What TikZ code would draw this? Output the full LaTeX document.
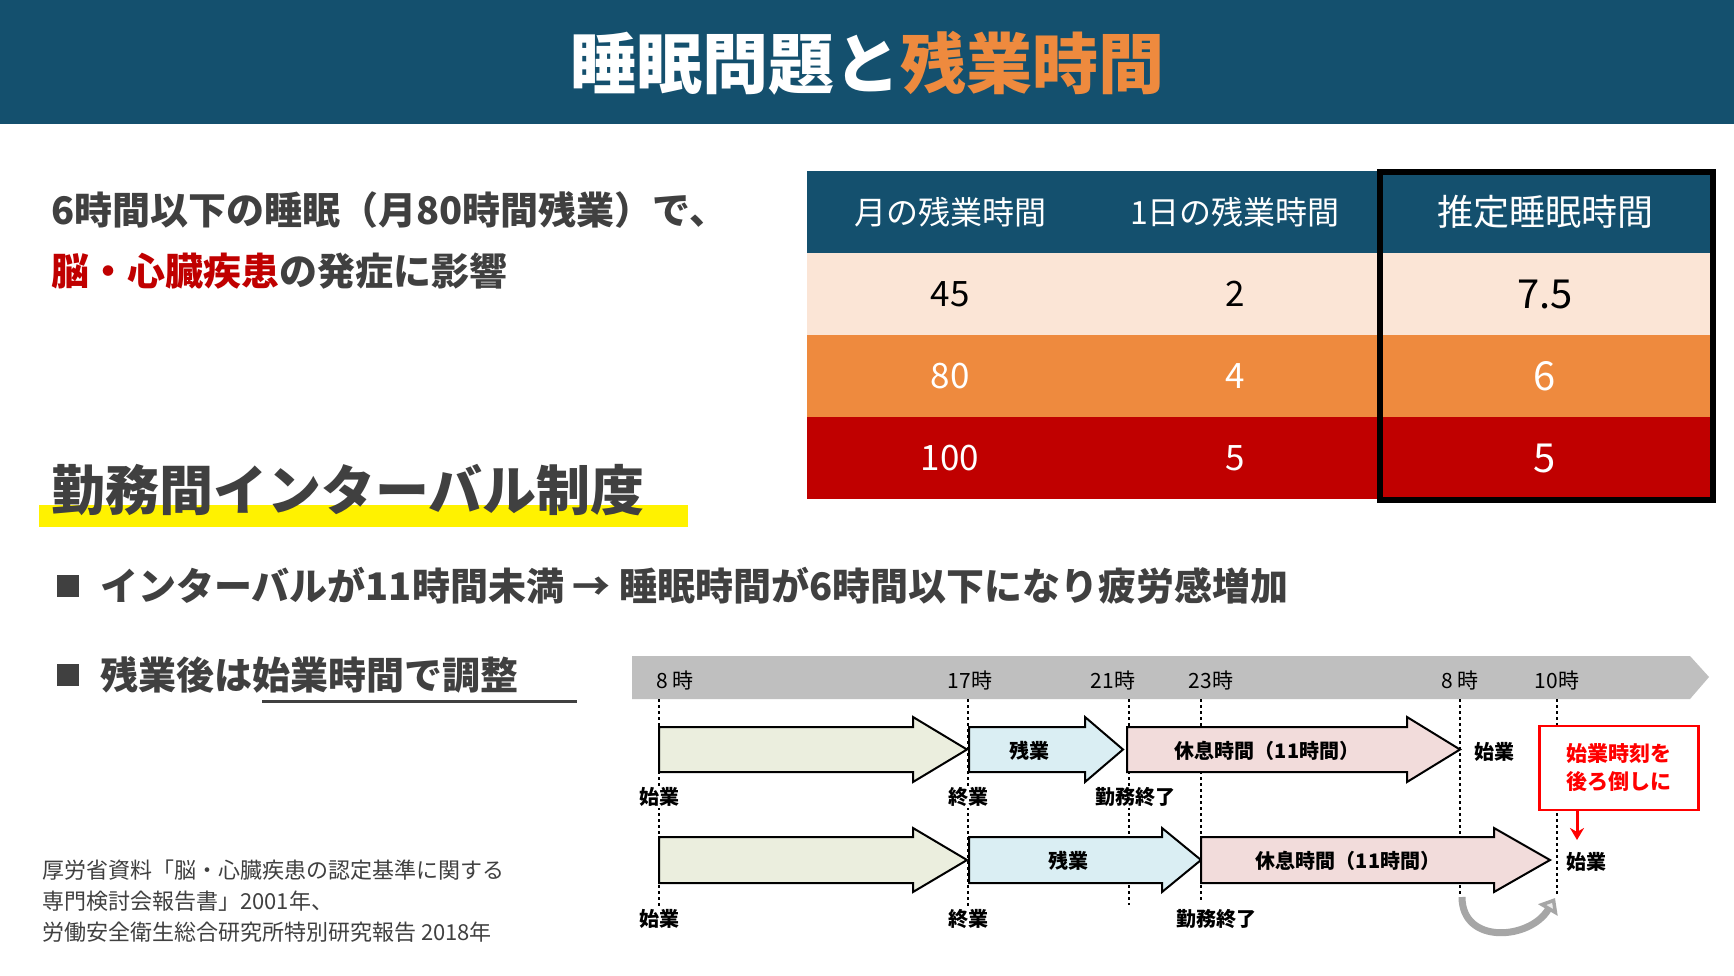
\documentclass[tikz,border=0pt]{standalone}
\usepackage{fontspec}
\usetikzlibrary{arrows.meta}
\setmainfont{Noto Sans CJK JP}
\definecolor{navy}{HTML}{14506E}
\definecolor{orng}{HTML}{EE8A3E}
\definecolor{peach}{HTML}{FBE5D6}
\definecolor{dred}{HTML}{C00000}
\definecolor{txt}{HTML}{404040}
\definecolor{agreen}{HTML}{EBEEDE}
\definecolor{ablue}{HTML}{DAEEF3}
\definecolor{apink}{HTML}{F2DCDB}
\definecolor{band}{HTML}{BFBFBF}
\newcommand{\tarrow}[8]{\draw[line width=2pt,fill=#8] (#1,#5) -- (#2,#5) -- (#2,#4) -- (#3,{(#4+#7)/2}) -- (#2,#7) -- (#2,#6) -- (#1,#6) -- cycle;}
\tikzset{
 tl/.style={font=\fontsize{21}{24}\selectfont, text=black, inner sep=1pt},
 lbl/.style={font=\fontsize{20}{24}\selectfont\bfseries, fill=white, inner sep=1pt},
 albl/.style={font=\fontsize{20}{24}\selectfont\bfseries, inner sep=1pt},
 vline/.style={line width=1.6pt, dash pattern=on 3pt off 3pt},
 cellh/.style={text=white,font=\fontsize{32}{36}\selectfont},
 cellv/.style={font=\fontsize{35}{38}\selectfont},
}
\begin{document}
\begin{tikzpicture}[x=1pt,y=-1pt]
\useasboundingbox (0,0) rectangle (1734,975);
\fill[white] (0,0) rectangle (1734,975);
% header
\fill[navy] (0,0) rectangle (1734,124);
\node (title) at (867,63) {\fontsize{66}{70}\selectfont\bfseries\textcolor{white}{睡眠問題と}\textcolor{orng}{残業時間}};
% left text
\node[anchor=west, text=txt, inner sep=0] (l1) at (51,210) {\fontsize{38}{42}\selectfont\bfseries 6時間以下の睡眠（月80時間残業）で、};
\node[anchor=west, inner sep=0] (l2) at (51,271) {\fontsize{38}{42}\selectfont\bfseries\textcolor{dred}{脳・心臓疾患}\textcolor{txt}{の発症に影響}};
% table
\fill[navy] (807,171) rectangle (1712,253);
\fill[peach] (807,253) rectangle (1712,335);
\fill[orng] (807,335) rectangle (1712,417);
\fill[dred] (807,417) rectangle (1712,499);
\node[cellh] (h1) at (950,212) {月の残業時間};
\node[cellh] (h2) at (1235,212) {1日の残業時間};
\node[cellh,font=\fontsize{36}{40}\selectfont] (h3) at (1545,212) {推定睡眠時間};
\node[cellv] (a1) at (950,294) {45};
\node[cellv] (a2) at (1235,294) {2};
\node[cellv,font=\fontsize{40}{44}\selectfont] (a3) at (1545,294) {7.5};
\node[cellv,text=white] (b1) at (950,376) {80};
\node[cellv,text=white] (b2) at (1235,376) {4};
\node[cellv,text=white,font=\fontsize{40}{44}\selectfont] (b3) at (1545,376) {6};
\node[cellv,text=white] (c1) at (950,458) {100};
\node[cellv,text=white] (c2) at (1235,458) {5};
\node[cellv,text=white,font=\fontsize{40}{44}\selectfont] (c3) at (1545,458) {5};
\draw[line width=6pt] (1380,172) rectangle (1713,500);
% heading
\fill[yellow] (39,505) rectangle (688,527);
\node[anchor=west, text=txt, inner sep=0] (hd) at (51,490) {\fontsize{54}{58}\selectfont\bfseries 勤務間インターバル制度};
% bullets
\fill[txt] (57,575) rectangle (79,597);
\node[anchor=west, text=txt, inner sep=0] (bl1) at (100,586) {\fontsize{38}{42}\selectfont\bfseries インターバルが11時間未満 → 睡眠時間が6時間以下になり疲労感増加};
\fill[txt] (57,664) rectangle (79,686);
\node[anchor=west, text=txt, inner sep=0] (bl2a) at (100,675) {\fontsize{38}{42}\selectfont\bfseries 残業後は};
\node[anchor=west, text=txt, inner sep=0] (bl2b) at (bl2a.east) {\fontsize{38}{42}\selectfont\bfseries 始業時間で調整};
\draw[txt, line width=3pt] (262,701) -- (577,701);
% references
\node[anchor=north west, text=txt, align=left, inner sep=0, font=\fontsize{22}{31}\selectfont] (ref) at (42,860) {厚労省資料「脳・心臓疾患の認定基準に関する\\専門検討会報告書」2001年、\\労働安全衛生総合研究所特別研究報告 2018年};
% timeline band
\fill[band] (632,656) -- (1690,656) -- (1709,677) -- (1690,699) -- (632,699) -- cycle;
\node[tl] (t1) at (675,680) {8 時};
\node[tl] (t2) at (970,680) {17時};
\node[tl] (t3) at (1113,680) {21時};
\node[tl] (t4) at (1211,680) {23時};
\node[tl] (t5) at (1460,680) {8 時};
\node[tl] (t6) at (1557,680) {10時};
% dashed lines
\draw[vline] (659,699) -- (659,925);
\draw[vline] (968,699) -- (968,925);
\draw[vline] (1129,699) -- (1129,905);
\draw[vline] (1201,699) -- (1201,900);
\draw[vline] (1460,699) -- (1460,897);
\draw[vline] (1557,699) -- (1557,895);
% row 1
\tarrow{659}{913}{967}{717}{727}{772}{782}{agreen}
\tarrow{969}{1085}{1123}{717}{727}{772}{782}{ablue}
\tarrow{1127}{1407}{1460}{717}{727}{772}{782}{apink}
\node[albl] (r1b) at (1029,751) {残業};
\node[albl] (r1c) at (1267,751) {休息時間（11時間）};
\node[albl] (r1s) at (1494,752) {始業};
\node[lbl] (r1l1) at (659,797) {始業};
\node[lbl] (r1l2) at (968,797) {終業};
\node[lbl] (r1l3) at (1135,797) {勤務終了};
% row 2
\tarrow{659}{913}{967}{828}{837}{883}{892}{agreen}
\tarrow{969}{1162}{1201}{828}{837}{883}{892}{ablue}
\tarrow{1201}{1494}{1550}{828}{837}{883}{892}{apink}
\node[albl] (r2b) at (1068,861) {残業};
\node[albl] (r2c) at (1348,861) {休息時間（11時間）};
\node[albl] (r2s) at (1586,862) {始業};
\node[lbl] (r2l1) at (659,919) {始業};
\node[lbl] (r2l2) at (968,919) {終業};
\node[lbl] (r2l3) at (1216,919) {勤務終了};
% red note
\node[draw=red, line width=2.5pt, fill=white, text=red, align=center, minimum width=159pt, minimum height=84pt, font=\fontsize{21}{28}\selectfont\bfseries] (note) at (1619,768) {始業時刻を\\後ろ倒しに};
\coordinate (noteend) at (1577,840);
\draw[red, line width=3pt, -{Stealth[length=12pt,width=14pt]}] (note.south -| noteend) -- (noteend);
% curved shift arrow
\coordinate (cs) at (1462,897);
\coordinate (ce) at (1555,898);
\draw[gray!70, line width=7pt, -{Triangle[open,length=14pt,width=22pt,fill=gray!15]}] (cs) .. controls (1462,945) and (1530,940) .. (ce);
\end{tikzpicture}
\end{document}
